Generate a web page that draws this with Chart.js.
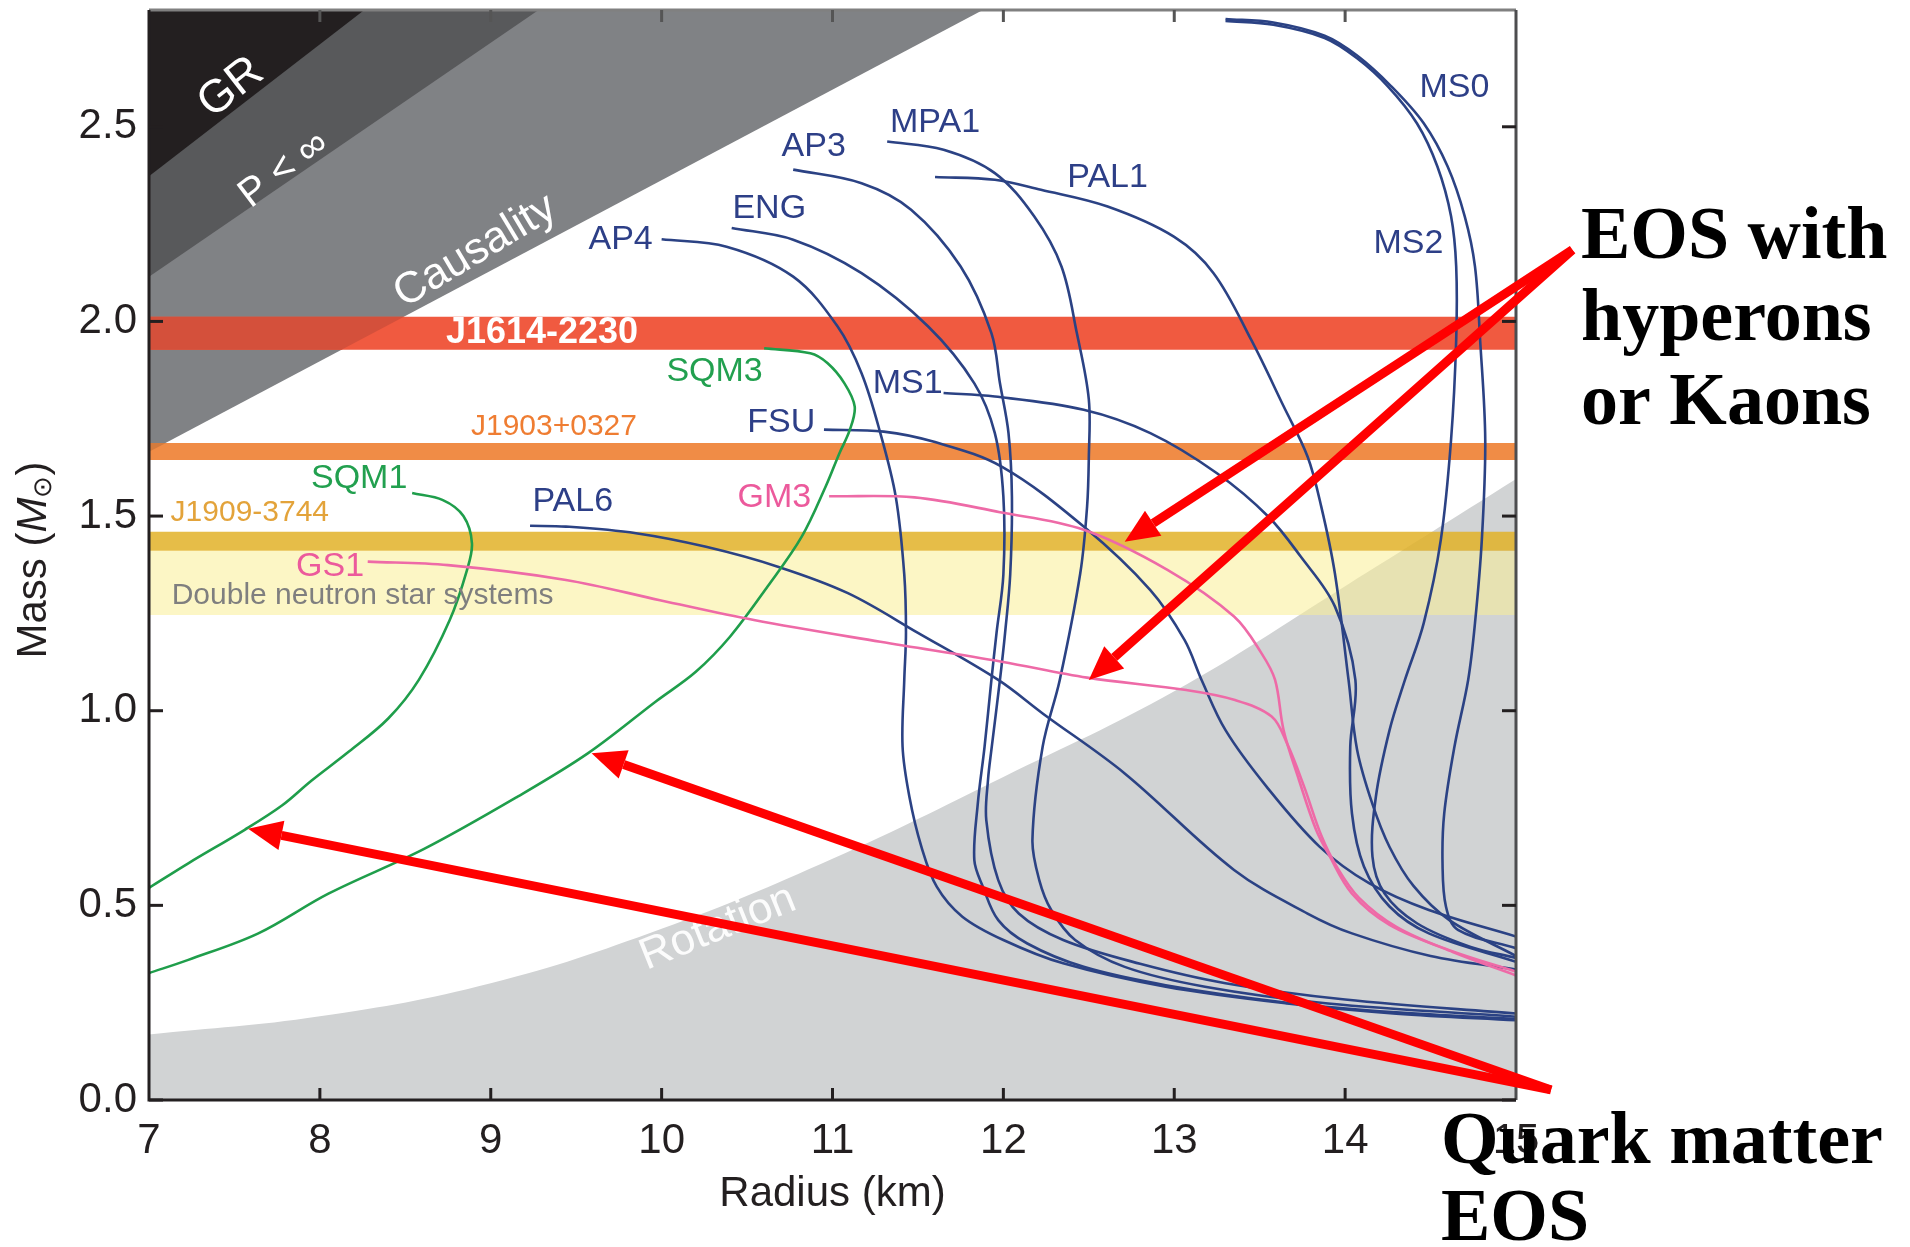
<!DOCTYPE html>
<html lang="en">
<head>
<meta charset="UTF-8">
<title>Neutron star mass-radius relations</title>
<script src="https://cdn.jsdelivr.net/npm/chart.js"></script>
<style>
  body { margin: 0; background: #fff; }
  canvas { display: block; }
</style>
</head>
<body>
<canvas id="mrChart" width="1910" height="1247"></canvas>
<script>
// values, points are [radius (km), mass (Msun)]
const AP4  = [[10.00,2.211],[10.38,2.192],[10.77,2.115],[11.03,1.987],[11.17,1.867],[11.28,1.713],[11.37,1.55],[11.42,1.35],[11.43,1.20],[11.42,1.079],[11.41,0.908],[11.45,0.779],[11.52,0.651],[11.61,0.548],[11.76,0.471],[12.00,0.411],[12.35,0.351],[12.95,0.291],[13.66,0.248],[14.30,0.222],[15.00,0.205]];
const ENG  = [[10.41,2.240],[10.77,2.210],[11.17,2.124],[11.56,1.987],[11.83,1.841],[11.95,1.713],[12.00,1.55],[12.00,1.35],[11.96,1.20],[11.93,1.079],[11.89,0.908],[11.85,0.760],[11.83,0.616],[11.88,0.548],[11.97,0.462],[12.14,0.402],[12.47,0.342],[12.95,0.295],[13.66,0.250],[14.30,0.225],[15.00,0.208]];
const AP3  = [[10.77,2.390],[11.17,2.355],[11.46,2.287],[11.75,2.141],[11.93,1.970],[11.98,1.841],[12.03,1.713],[12.05,1.55],[12.04,1.35],[12.01,1.20],[11.98,1.079],[11.93,0.900],[11.91,0.822],[11.90,0.719],[11.97,0.565],[12.09,0.479],[12.35,0.411],[12.80,0.350],[13.30,0.300],[14.00,0.258],[15.00,0.222]];
const MPA1 = [[11.32,2.462],[11.65,2.441],[11.95,2.381],[12.18,2.270],[12.34,2.141],[12.43,1.970],[12.50,1.80],[12.50,1.65],[12.49,1.525],[12.45,1.353],[12.33,1.079],[12.23,0.908],[12.17,0.668],[12.21,0.565],[12.28,0.488],[12.42,0.411],[12.71,0.342],[13.18,0.291],[13.90,0.248],[15.00,0.214]];
const PAL1 = [[11.60,2.371],[11.95,2.364],[12.22,2.338],[12.61,2.295],[13.00,2.217],[13.23,2.124],[13.45,1.953],[13.64,1.782],[13.78,1.653],[13.86,1.525],[13.94,1.353],[14.02,1.079],[14.07,0.900],[14.16,0.760],[14.26,0.650],[14.40,0.550],[14.61,0.462],[15.00,0.370]];
const MS1  = [[11.65,1.816],[11.95,1.807],[12.47,1.773],[12.86,1.713],[13.25,1.610],[13.55,1.499],[13.74,1.396],[13.94,1.268],[14.06,1.079],[14.03,0.908],[14.04,0.736],[14.11,0.600],[14.26,0.497],[14.49,0.428],[15.00,0.355]];
const FSU  = [[10.95,1.722],[11.30,1.717],[11.60,1.690],[11.99,1.627],[12.47,1.473],[12.86,1.310],[13.06,1.182],[13.16,1.079],[13.30,0.950],[13.54,0.805],[13.85,0.651],[14.14,0.557],[14.49,0.488],[15.00,0.420]];
const PAL6 = [[9.23,1.475],[9.44,1.473],[9.85,1.456],[10.26,1.421],[10.68,1.370],[11.09,1.302],[11.50,1.200],[11.97,1.079],[12.23,0.993],[12.71,0.839],[13.35,0.591],[13.78,0.479],[14.04,0.428],[14.50,0.370],[15.00,0.335]];
const MS0  = [[13.30,2.777],[13.58,2.768],[13.88,2.734],[14.07,2.683],[14.27,2.604],[14.46,2.509],[14.60,2.398],[14.70,2.270],[14.76,2.141],[14.79,1.953],[14.82,1.696],[14.80,1.439],[14.76,1.225],[14.72,1.079],[14.64,0.908],[14.58,0.736],[14.57,0.608],[14.59,0.497],[14.66,0.437],[15.00,0.390]];
const MS2  = [[13.30,2.772],[13.58,2.762],[13.88,2.728],[14.07,2.676],[14.25,2.604],[14.42,2.509],[14.54,2.398],[14.62,2.270],[14.65,2.141],[14.65,1.953],[14.62,1.696],[14.56,1.439],[14.46,1.225],[14.35,1.079],[14.26,0.950],[14.18,0.779],[14.16,0.625],[14.23,0.531],[14.42,0.454],[14.73,0.394],[15.00,0.365]];
const GM3  = [[10.98,1.551],[11.48,1.548],[11.98,1.510],[12.47,1.465],[12.96,1.362],[13.35,1.242],[13.51,1.148],[13.59,1.079],[13.64,0.950],[13.73,0.822],[13.83,0.694],[13.90,0.634],[14.04,0.530],[14.26,0.450],[14.61,0.385],[15.00,0.330]];
const GS1  = [[8.28,1.383],[8.75,1.374],[9.44,1.336],[9.99,1.284],[10.54,1.233],[11.28,1.177],[11.99,1.126],[12.49,1.085],[13.07,1.053],[13.35,1.028],[13.57,0.985],[13.66,0.916],[13.76,0.805],[13.86,0.680],[13.95,0.600],[14.08,0.520],[14.30,0.445],[14.63,0.380],[15.00,0.320]];
const SQM1 = [[8.54,1.559],[8.72,1.541],[8.84,1.50],[8.89,1.43],[8.86,1.36],[8.76,1.233],[8.58,1.080],[8.40,0.980],[8.17,0.895],[7.95,0.820],[7.78,0.757],[7.56,0.694],[7.23,0.608],[7.00,0.545]];
const SQM3 = [[10.60,1.931],[10.87,1.918],[10.97,1.893],[11.07,1.841],[11.13,1.781],[11.10,1.720],[11.04,1.661],[10.96,1.576],[10.82,1.447],[10.62,1.319],[10.40,1.190],[10.20,1.100],[9.97,1.025],[9.57,0.891],[9.16,0.780],[8.61,0.645],[8.05,0.530],[7.64,0.428],[7.23,0.360],[7.00,0.326]];

// excluded regions
const GR_EDGE = [[7.0,2.373],[8.26,2.8]];
const PINF_EDGE = [[7.0,2.115],[9.28,2.8]];
const CAUSAL_EDGE = [[7.0,1.665],[11.88,2.8]];
const ROTATION_EDGE = [[7,0.168],[8,0.215],[9,0.30],[10,0.44],[11,0.62],[12,0.83],[13,1.05],[14,1.32],[15,1.595]];

// measured pulsar masses [low, high]
const J1614 = [1.927, 2.012];
const J1903 = [1.644, 1.688];
const J1909 = [1.411, 1.460];
const DNS   = [1.246, 1.411];

const X_TICKS = [7, 8, 9, 10, 11, 12, 13, 14, 15];
const Y_TICKS = [0, 0.5, 1.0, 1.5, 2.0, 2.5];

// red annotation arrows: [r0, m0, r1, m1] (tip at r1, m1)
const ARROWS = [[15.33,2.184,12.71,1.434],[15.33,2.184,12.50,1.079],[15.205,0.026,7.58,0.697],[15.205,0.026,9.59,0.891]];

const BLUE = '#2b4284', GREEN = '#1f9e4b', PINK = '#ee6aa7';
const FONT = "'Liberation Sans', Arial, sans-serif";

// where the text labels sit (data coords)
const CURVE_LABELS = [
  ['MS0', 14.64, 2.60, '#2d3f87'], ['MPA1', 11.60, 2.51, '#2d3f87'], ['AP3', 10.89, 2.45, '#2d3f87'],
  ['PAL1', 12.61, 2.37, '#2d3f87'], ['ENG', 10.63, 2.29, '#2d3f87'], ['AP4', 9.76, 2.21, '#2d3f87'],
  ['MS2', 14.37, 2.20, '#2d3f87'], ['MS1', 11.44, 1.84, '#2d3f87'], ['FSU', 10.70, 1.74, '#2d3f87'],
  ['PAL6', 9.48, 1.536, '#2d3f87'], ['SQM3', 10.31, 1.87, '#22a04f'], ['SQM1', 8.23, 1.595, '#22a04f'],
  ['GM3', 10.66, 1.548, '#ec5a9c'], ['GS1', 8.06, 1.37, '#ec5a9c']
];
const BAND_LABELS = [
  ['J1614-2230', 9.30, 1.97, '#ffffff', 'bold 36px'],
  ['J1903+0327', 9.37, 1.73, '#ef7d32', '30px'],
  ['J1909-3744', 7.59, 1.508, '#e3a33a', '30px'],
  ['Double neutron star systems', 8.25, 1.295, '#7f7f7f', '30px']
];
const REGION_LABELS = [
  ['GR', 7.48, 2.60, -38, '46px'],
  ['P < \u221e', 7.79, 2.39, -37, '40px'],
  ['Causality', 8.91, 2.18, -31, '44px'],
  ['Rotation', 10.33, 0.442, -22, '44px']
];

const pts = arr => arr.map(p => ({ x: p[0], y: p[1] }));

function curve(arr, color, order) {
  return { data: pts(arr), showLine: true, borderColor: color, borderWidth: 2.6,
           pointRadius: 0, tension: 0.35, fill: false, order: order, borderJoinStyle: 'round' };
}
function region(arr, color, fill, order, tension) {
  return { data: pts(arr), showLine: true, borderColor: 'transparent', borderWidth: 0,
           pointRadius: 0, tension: tension || 0, backgroundColor: color, fill: fill, order: order };
}
function band(lim, color, order) {
  return region([[7, lim[1]], [15, lim[1]]], color, { value: lim[0] }, order);
}
// piece of a band lying left of a straight edge (where the band covers the grey)
function overlap(lim, edge) {
  const [[r0, m0], [r1, m1]] = edge;
  const rAt = m => r0 + (m - m0) * (r1 - r0) / (m1 - m0);
  const out = [];
  if (rAt(lim[0]) > 7) { out.push([7, lim[0]], [rAt(lim[0]), lim[0]]); }
  else { out.push([7, m0 + (7 - r0) * (m1 - m0) / (r1 - r0)]); }
  out.push([rAt(lim[1]), lim[1]]);
  return out;
}

function txt(ctx, s, x, y, font, color, align, angle) {
  ctx.save();
  ctx.translate(x, y);
  if (angle) ctx.rotate(angle * Math.PI / 180);
  ctx.font = font;
  ctx.fillStyle = color;
  ctx.textAlign = align || 'center';
  ctx.textBaseline = 'middle';
  ctx.fillText(s, 0, 0);
  ctx.restore();
}

const decor = {
  id: 'decor',
  afterDatasetsDraw(chart) {
    const ctx = chart.ctx, sx = chart.scales.x, sy = chart.scales.y;
    REGION_LABELS.forEach(l => {
      txt(ctx, l[0], sx.getPixelForValue(l[1]), sy.getPixelForValue(l[2]), l[4] + ' ' + FONT,
          l[0] === 'Rotation' ? 'rgba(255,255,255,0.92)' : '#ffffff', 'center', l[3]);
    });
    BAND_LABELS.forEach(l => {
      txt(ctx, l[0], sx.getPixelForValue(l[1]), sy.getPixelForValue(l[2]), l[4] + ' ' + FONT, l[3]);
    });
    CURVE_LABELS.forEach(l => {
      txt(ctx, l[0], sx.getPixelForValue(l[1]), sy.getPixelForValue(l[2]), '34px ' + FONT, l[3]);
    });
  },
  afterDraw(chart) {
    const ctx = chart.ctx, a = chart.chartArea, sx = chart.scales.x, sy = chart.scales.y;
    // frame
    ctx.save();
    ctx.lineWidth = 3;
    ctx.strokeStyle = '#808080';
    ctx.beginPath(); ctx.moveTo(a.left, a.top); ctx.lineTo(a.right, a.top); ctx.stroke();
    ctx.strokeStyle = '#4d4d4f';
    ctx.beginPath(); ctx.moveTo(a.right, a.top); ctx.lineTo(a.right, a.bottom); ctx.stroke();
    ctx.strokeStyle = '#231f20';
    ctx.beginPath(); ctx.moveTo(a.left, a.top); ctx.lineTo(a.left, a.bottom); ctx.lineTo(a.right, a.bottom); ctx.stroke();
    // inward ticks
    X_TICKS.slice(1, -1).forEach(v => {
      const x = sx.getPixelForValue(v);
      ctx.strokeStyle = '#231f20';
      ctx.beginPath(); ctx.moveTo(x, a.bottom); ctx.lineTo(x, a.bottom - 12); ctx.stroke();
      ctx.strokeStyle = '#555';
      ctx.beginPath(); ctx.moveTo(x, a.top); ctx.lineTo(x, a.top + 12); ctx.stroke();
    });
    Y_TICKS.forEach(v => {
      const y = sy.getPixelForValue(v);
      ctx.strokeStyle = '#231f20';
      ctx.beginPath(); ctx.moveTo(a.left, y); ctx.lineTo(a.left + 14, y); ctx.stroke();
      ctx.beginPath(); ctx.moveTo(a.right, y); ctx.lineTo(a.right - 14, y); ctx.stroke();
    });
    ctx.restore();

    // axis titles
    txt(ctx, 'Radius (km)', (a.left + a.right) / 2, a.bottom + 94, '42px ' + FONT, '#231f20');
    ctx.save();
    ctx.translate(34, (a.top + a.bottom) / 2 + 5);
    ctx.rotate(-Math.PI / 2);
    ctx.fillStyle = '#231f20';
    ctx.textBaseline = 'middle';
    const parts = [['Mass (', '42px ' + FONT, 0], ['M', 'italic 42px ' + FONT, 0],
                   ['\u2299', '26px ' + FONT, 10], [')', '42px ' + FONT, 0]];
    let w = 0;
    parts.forEach(p => { ctx.font = p[1]; w += ctx.measureText(p[0]).width; });
    let x = -w / 2;
    parts.forEach(p => {
      ctx.font = p[1];
      ctx.textAlign = 'left';
      ctx.fillText(p[0], x, p[2]);
      x += ctx.measureText(p[0]).width;
    });
    ctx.restore();

    // arrows
    ctx.save();
    ctx.strokeStyle = '#ff0000';
    ctx.fillStyle = '#ff0000';
    ctx.lineWidth = 9;
    ARROWS.forEach(ar => {
      const x0 = sx.getPixelForValue(ar[0]), y0 = sy.getPixelForValue(ar[1]);
      const x1 = sx.getPixelForValue(ar[2]), y1 = sy.getPixelForValue(ar[3]);
      const ang = Math.atan2(y1 - y0, x1 - x0), head = 34, half = 15;
      const bx = x1 - head * Math.cos(ang), by = y1 - head * Math.sin(ang);
      ctx.beginPath(); ctx.moveTo(x0, y0); ctx.lineTo(bx, by); ctx.stroke();
      ctx.beginPath();
      ctx.moveTo(x1, y1);
      ctx.lineTo(bx + half * Math.sin(ang), by - half * Math.cos(ang));
      ctx.lineTo(bx - half * Math.sin(ang), by + half * Math.cos(ang));
      ctx.closePath(); ctx.fill();
    });
    ctx.restore();

    // annotations
    ctx.save();
    ctx.font = "bold 74px 'Liberation Serif', 'Times New Roman', serif";
    ctx.fillStyle = '#000';
    ctx.textAlign = 'left';
    ctx.textBaseline = 'alphabetic';
    ctx.fillText('EOS with', 1581, 258);
    ctx.fillText('hyperons', 1581, 340);
    ctx.fillText('or Kaons', 1581, 424);
    ctx.fillText('Quark matter', 1441, 1163);
    ctx.fillText('EOS', 1441, 1240);
    ctx.restore();
  }
};

const datasets = [
  curve(AP4, BLUE, 10), curve(ENG, BLUE, 10), curve(AP3, BLUE, 10), curve(MPA1, BLUE, 10),
  curve(PAL1, BLUE, 10), curve(MS1, BLUE, 10), curve(FSU, BLUE, 10), curve(PAL6, BLUE, 10),
  curve(MS0, BLUE, 10), curve(MS2, BLUE, 10),
  curve(GM3, PINK, 5), curve(GS1, PINK, 5),
  curve(SQM1, GREEN, 5), curve(SQM3, GREEN, 5),
  region(ROTATION_EDGE, '#d1d3d4', 'start', 100, 0.4),
  region(CAUSAL_EDGE, '#808285', 'end', 99),
  region(PINF_EDGE, '#58595b', 'end', 98),
  region(GR_EDGE, '#231f20', 'end', 97),
  band(DNS, 'rgba(250,238,150,0.55)', 90),
  band(J1909, 'rgba(226,178,40,0.85)', 89),
  band(J1903, '#f08c46', 88),
  band(J1614, '#f05a40', 87),
  region(overlap(J1614, CAUSAL_EDGE), '#d4503b', { value: J1614[1] }, 86),
  region(overlap(J1903, CAUSAL_EDGE), '#d37b3e', { value: J1903[1] }, 86)
];

new Chart(document.getElementById('mrChart'), {
  type: 'scatter',
  data: { datasets: datasets },
  options: {
    responsive: false,
    animation: false,
    devicePixelRatio: 1,
    layout: { padding: { left: 0, right: 394, top: 10, bottom: 0 } },
    plugins: { legend: { display: false }, tooltip: { enabled: false } },
    scales: {
      x: {
        type: 'linear', min: 7, max: 15,
        grid: { display: false, drawTicks: false },
        border: { display: false },
        afterBuildTicks: s => { s.ticks = X_TICKS.map(v => ({ value: v })); },
        afterFit: s => { s.height = 147; s.paddingLeft = 0; s.paddingRight = 0; },
        ticks: { font: { size: 42, family: FONT }, color: '#231f20', padding: 16,
                 maxRotation: 0, autoSkip: false, callback: v => String(v) }
      },
      y: {
        type: 'linear', min: 0, max: 2.8,
        grid: { display: false, drawTicks: false },
        border: { display: false },
        afterBuildTicks: s => { s.ticks = Y_TICKS.map(v => ({ value: v })); },
        afterFit: s => { s.width = 149; s.paddingTop = 0; s.paddingBottom = 0; },
        ticks: { font: { size: 42, family: FONT }, color: '#231f20', padding: 12,
                 autoSkip: false, callback: v => v.toFixed(1) }
      }
    }
  },
  plugins: [decor]
});
</script>
</body>
</html>
